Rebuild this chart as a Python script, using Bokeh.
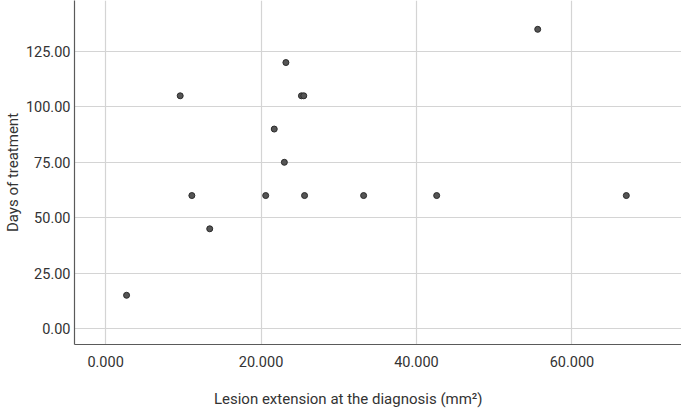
from bokeh.plotting import figure
from bokeh.models import Range1d, FixedTicker, CustomJSTickFormatter
from bokeh.embed import file_html
from bokeh.resources import INLINE

# Lesion extension at diagnosis (mm², thousands shown as x.000) vs days of treatment
lesion = [2.7, 9.6, 11.1, 13.4, 20.6, 21.7, 23.2, 23.0, 25.2, 25.5, 25.6, 33.2, 42.6, 55.6, 67.0]
days = [15, 105, 60, 45, 60, 90, 120, 75, 105, 105, 60, 60, 60, 135, 60]

x_ticks = [0, 20, 40, 60]
y_ticks = [0, 25, 50, 75, 100, 125]
x_title = "Lesion extension at the diagnosis (mm\u00b2)"
y_title = "Days of treatment"

FONT = "Roboto"
TXT = "#333333"

p = figure(width=681, height=412, output_backend="svg", toolbar_location=None,
           x_range=Range1d(-4.0, 74.1), y_range=Range1d(-7.2, 148.0),
           min_border_left=74, min_border_right=0, min_border_top=0, min_border_bottom=68)
p.outline_line_color = None
p.background_fill_color = "white"
p.border_fill_color = "white"

p.scatter(lesion, days, size=6, marker="circle", fill_color="#555555", line_color="#2a2a2a", line_width=1)

for ax in (p.xaxis[0], p.yaxis[0]):
    ax.major_tick_line_color = None
    ax.minor_tick_line_color = None
    ax.major_tick_out = 0
    ax.major_tick_in = 0
    ax.axis_line_color = "#5a5a5a"
    ax.axis_line_width = 1.2
    ax.major_label_text_font = FONT
    ax.major_label_text_font_size = "14.5px"
    ax.major_label_text_color = TXT
    ax.axis_label_text_font = FONT
    ax.axis_label_text_font_size = "15px"
    ax.axis_label_text_font_style = "normal"
    ax.axis_label_text_color = TXT

p.xaxis.ticker = FixedTicker(ticks=x_ticks)
p.yaxis.ticker = FixedTicker(ticks=y_ticks)
p.xaxis.formatter = CustomJSTickFormatter(code="return tick.toFixed(3);")
p.yaxis.formatter = CustomJSTickFormatter(code="return tick.toFixed(2);")
p.xaxis.major_label_standoff = 11
p.yaxis.major_label_standoff = 4
p.yaxis.axis_label = y_title
p.yaxis.axis_label_standoff = 1
# the reference title sits left of the frame centre; trailing no-break spaces shift it
p.xaxis.axis_label = x_title + "\u00a0" * 16
p.xaxis.axis_label_standoff = 20

p.xgrid.ticker = FixedTicker(ticks=x_ticks)
p.ygrid.ticker = FixedTicker(ticks=y_ticks)
p.xgrid.grid_line_color = "#d4d4d4"
p.ygrid.grid_line_color = "#d4d4d4"
p.xgrid.grid_line_width = 1.2
p.ygrid.grid_line_width = 1.2

open("out.html", "w").write(file_html(p, INLINE))
